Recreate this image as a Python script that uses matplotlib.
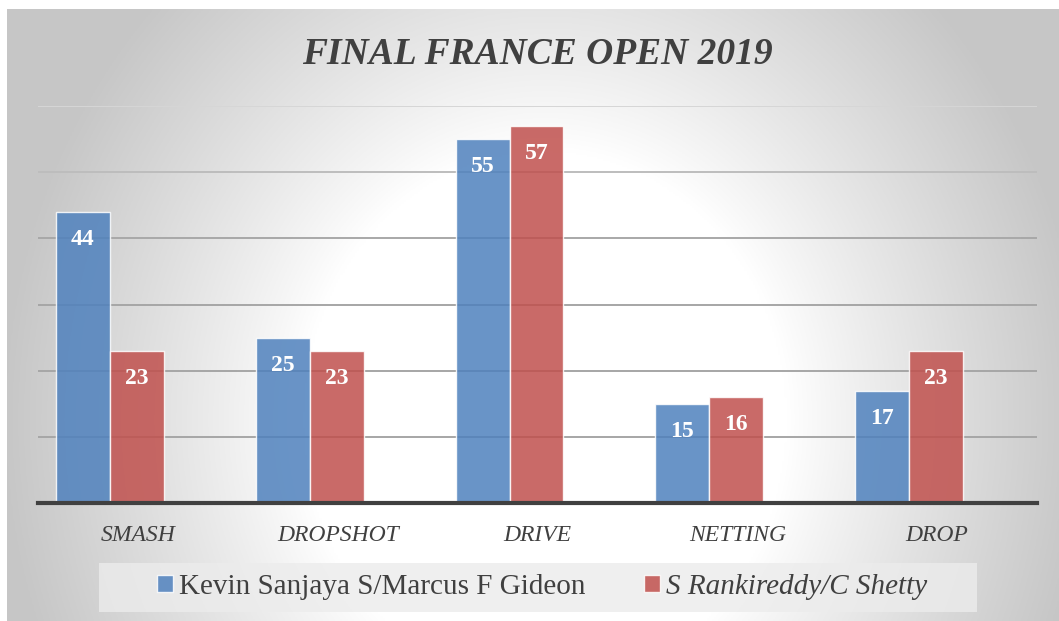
import numpy as np
import matplotlib
matplotlib.use("Agg")
import matplotlib.pyplot as plt
from matplotlib.patches import Patch, Rectangle

categories = ["SMASH", "DROPSHOT", "DRIVE", "NETTING", "DROP"]
series_names = ["Kevin Sanjaya S/Marcus F Gideon", "S Rankireddy/C Shetty"]
kevin_values = [44, 25, 55, 15, 17]
rankireddy_values = [23, 23, 57, 16, 23]
title = "FINAL FRANCE OPEN 2019"
grid_levels = [10, 20, 30, 40, 50, 60]
grid_colors = ["#a6a6a6", "#a6a6a6", "#a6a6a6", "#a8a8a8", "#bdbdbd", "#d6d6d6"]

W, H = 1059, 621
fig = plt.figure(figsize=(W / 100, H / 100), dpi=100)
fig.patch.set_facecolor("white")

# background radial gradient panel
bg = fig.add_axes([7 / W, 0, (W - 7) / W, (H - 9) / H], zorder=0)
nx, ny = 500, 300
xs = np.linspace(7, W, nx)
ys = np.linspace(9, H, ny)
X, Y = np.meshgrid(xs, ys)
cx, cy, rx, ry = 545, 420, 540, 600
d = np.sqrt(((X - cx) / rx) ** 2 + ((Y - cy) / ry) ** 2)
d0 = 0.45
t = np.clip((d - d0) / (1 - d0), 0, 1)
v = 1.0 - 0.22 * t ** 0.9
img = np.dstack([v, v, v])
bg.imshow(img, aspect="auto", extent=[0, 1, 0, 1], origin="upper")
bg.set_axis_off()

ax = fig.add_axes([38 / W, 1 - 503 / H, 999 / W, (503 - 106) / H], zorder=2)
ax.patch.set_alpha(0)

x = np.arange(len(categories))
bw = 0.27
blue = "#4F81BD"
red = "#C0504D"
b1 = ax.bar(x - 0.275, kevin_values, bw, color=blue, alpha=0.85,
            edgecolor=(1, 1, 1, 0.6), linewidth=1, zorder=3)
b2 = ax.bar(x - 0.005, rankireddy_values, bw, color=red, alpha=0.85,
            edgecolor=(1, 1, 1, 0.6), linewidth=1, zorder=3)

for bars, vals in ((b1, kevin_values), (b2, rankireddy_values)):
    for rect, val in zip(bars, vals):
        ax.annotate(str(val), (rect.get_x() + rect.get_width() / 2, rect.get_height()),
                    xytext=(0, -20), textcoords="offset points",
                    ha="center", va="center", color="white",
                    fontsize=17, fontweight="bold", family="Liberation Serif", zorder=4)

ax.set_xlim(-0.5, len(categories) - 0.5)
ax.set_ylim(0, 60)
for lvl, col in zip(grid_levels, grid_colors):
    ax.axhline(lvl, color=col, linewidth=1.4, zorder=1)
ax.set_yticks([])
ax.tick_params(axis="y", left=False, labelleft=False)
ax.set_xticks(x)
ax.set_xticklabels(categories, fontsize=17, fontstyle="italic",
                   family="Liberation Serif", color="#404040")
ax.tick_params(axis="x", length=0, pad=16)
for s in ("top", "right", "left"):
    ax.spines[s].set_visible(False)
ax.spines["bottom"].set_color("#404040")
ax.spines["bottom"].set_linewidth(3)
ax.spines["bottom"].set_zorder(5)

fig.text(537 / W, 1 - 54 / H, title, ha="center", va="center",
         fontsize=27, fontweight="bold", fontstyle="italic",
         family="Liberation Serif", color="#404040", zorder=5)

# legend box
fig.patches.append(Rectangle((99 / W, 1 - 612 / H), (977 - 99) / W, 49 / H,
                             transform=fig.transFigure, facecolor="#ececec",
                             edgecolor="none", alpha=0.8, zorder=1))
handles = [Patch(facecolor=blue, alpha=0.85, edgecolor=(1, 1, 1, 0.6)),
           Patch(facecolor=red, alpha=0.85, edgecolor=(1, 1, 1, 0.6))]
leg = fig.legend(handles, series_names, loc="center", ncol=2,
                 bbox_to_anchor=(542 / W, 1 - 587 / H), frameon=False,
                 prop={"family": "Liberation Serif", "size": 21},
                 handlelength=0.55, handleheight=0.55, handletextpad=0.2,
                 columnspacing=2.0)
leg.set_zorder(6)
for t_ in leg.get_texts():
    t_.set_color("#404040")
leg.get_texts()[1].set_fontstyle("italic")

fig.savefig("out.png", dpi=100)
